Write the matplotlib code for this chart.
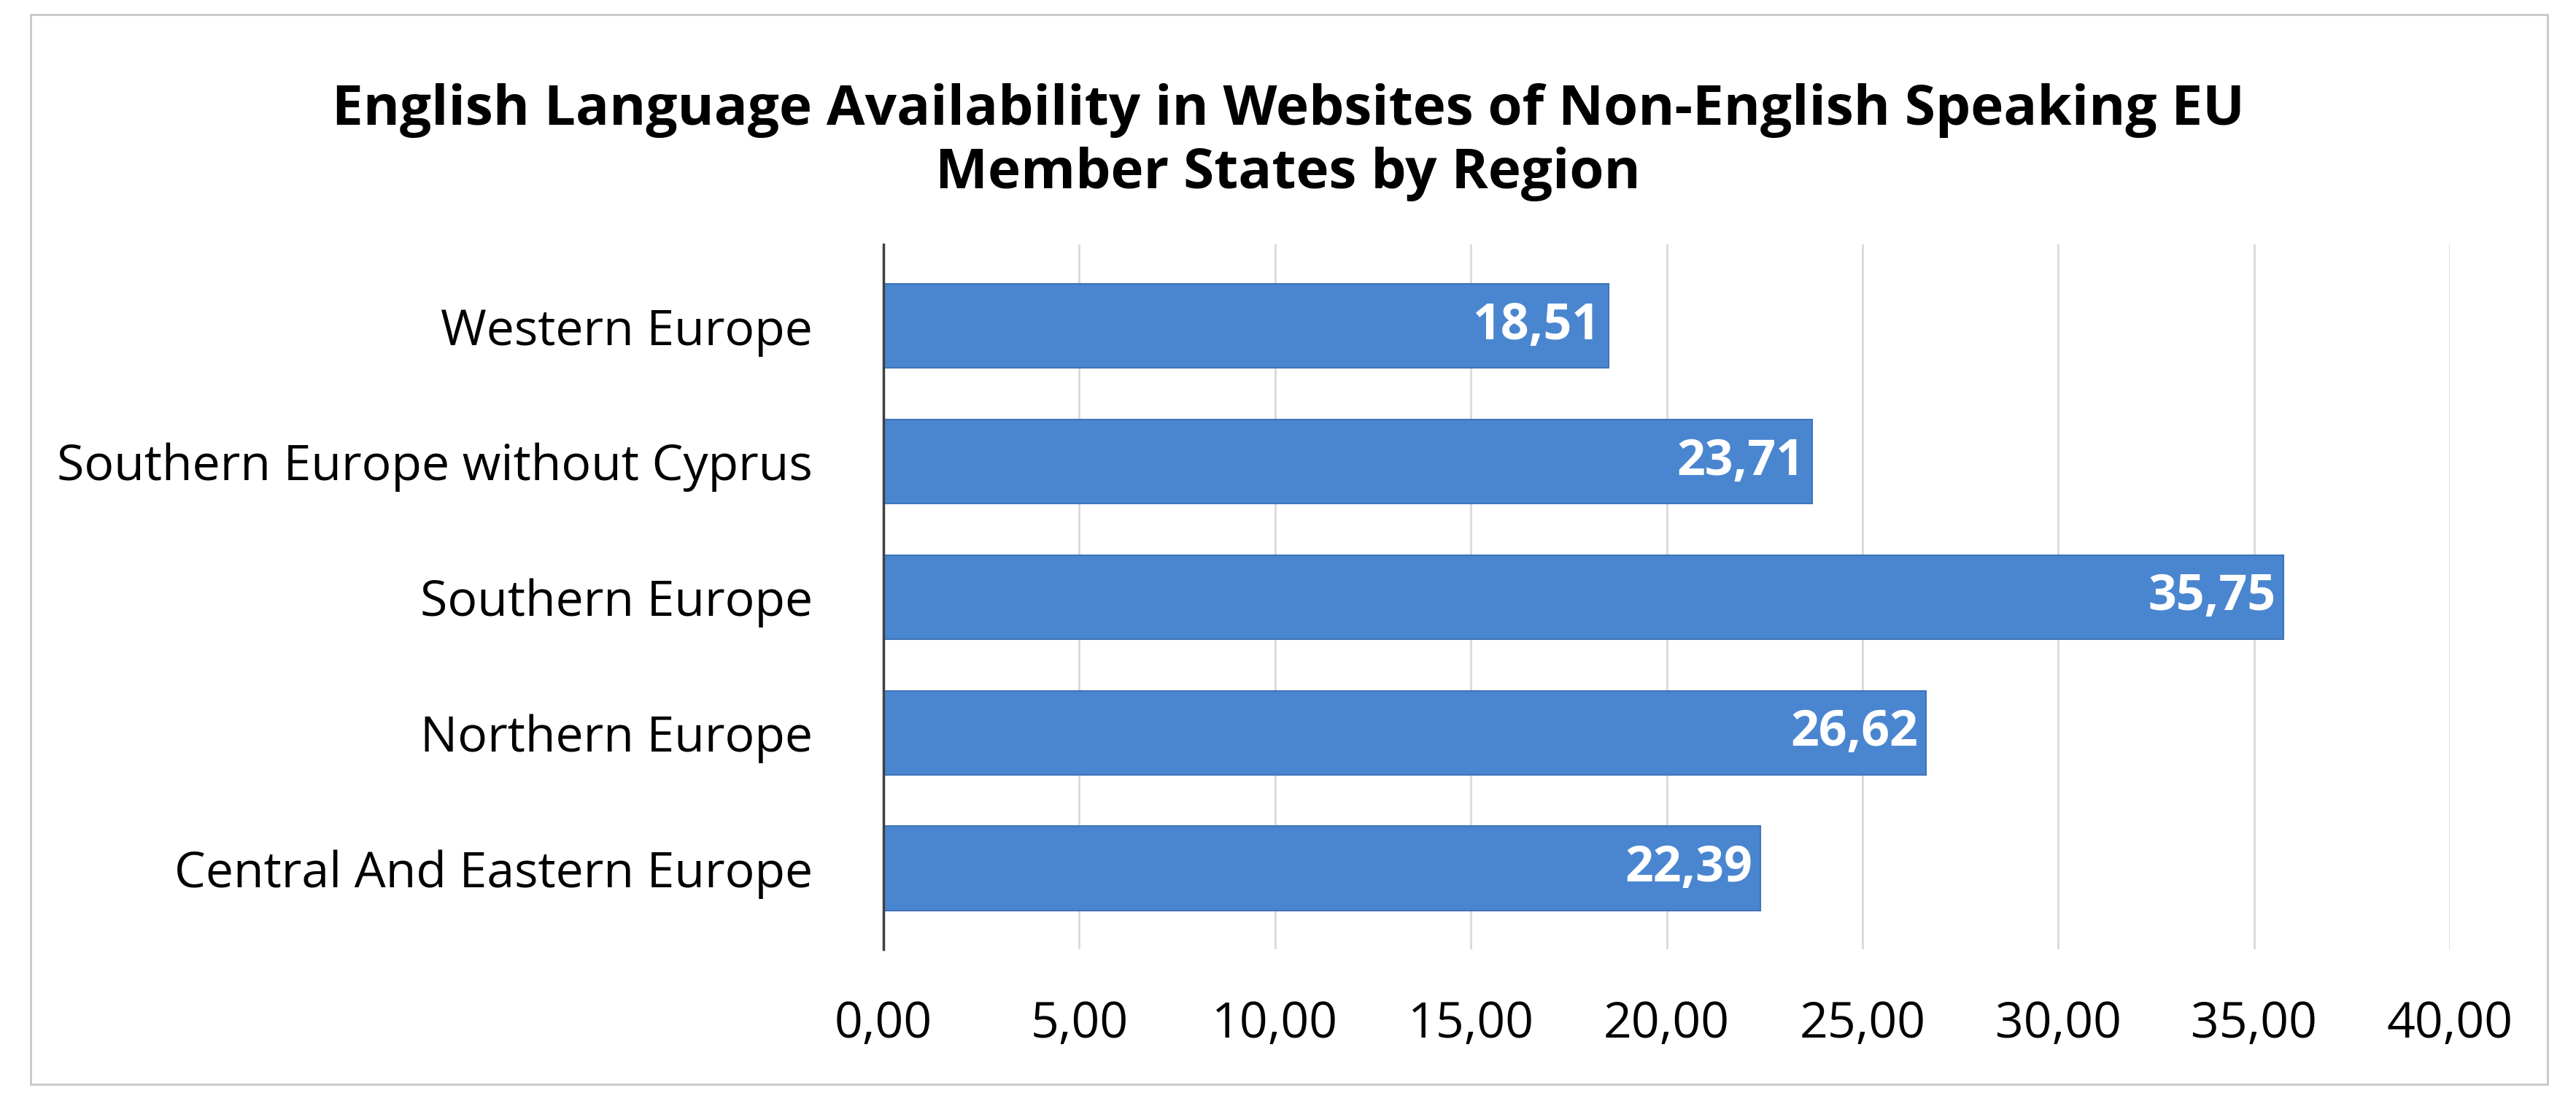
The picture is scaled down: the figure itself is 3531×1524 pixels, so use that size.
import matplotlib.pyplot as plt
from matplotlib.patches import Rectangle

categories = ["Western Europe", "Southern Europe without Cyprus", "Southern Europe",
              "Northern Europe", "Central And Eastern Europe"]
values = [18.51, 23.71, 35.75, 26.62, 22.39]
ticks = [0, 5, 10, 15, 20, 25, 30, 35, 40]

plt.rcParams["font.family"] = ["Open Sans", "DejaVu Sans"]

fig = plt.figure(figsize=(35.31, 15.24), dpi=100)
ax = fig.add_axes([0.343, 0.146, 0.608, 0.634])

fig.patches.append(Rectangle((0.012, 0.025), 0.977, 0.962, transform=fig.transFigure,
                             fill=False, edgecolor="#c8c8c8", linewidth=2))

ypos = list(range(len(categories)))
ax.barh(ypos, values, height=0.62, color="#4a86d0", edgecolor="#3f74b8", linewidth=1.5, zorder=3)
ax.set_yticks(ypos)
ax.set_yticklabels(categories, fontsize=49)
ax.set_xlim(0, 40)
ax.set_ylim(4.6, -0.6)
ax.set_xticks(ticks)
ax.set_xticklabels([f"{t:.2f}".replace(".", ",") for t in ticks], fontsize=49)
ax.tick_params(axis="y", length=0, pad=70)
ax.tick_params(axis="x", length=0, pad=50)
ax.grid(axis="x", color="#d9d9d9", linewidth=2, zorder=0)
for s in ["top", "right", "bottom"]:
    ax.spines[s].set_visible(False)
ax.spines["left"].set_color("#404040")
ax.spines["left"].set_linewidth(2.5)
ax.spines["left"].set_zorder(4)

for y, v in zip(ypos, values):
    ax.text(v - 0.2, y, f"{v:.2f}".replace(".", ","), ha="right", va="center",
            color="white", fontsize=49, fontweight="bold", zorder=5)

fig.text(0.5, 0.872, "English Language Availability in Websites of Non-English Speaking EU\nMember States by Region",
         ha="center", va="center", fontsize=55, fontweight="bold", linespacing=1.2)

fig.savefig("out.png", dpi=100, facecolor="white")
